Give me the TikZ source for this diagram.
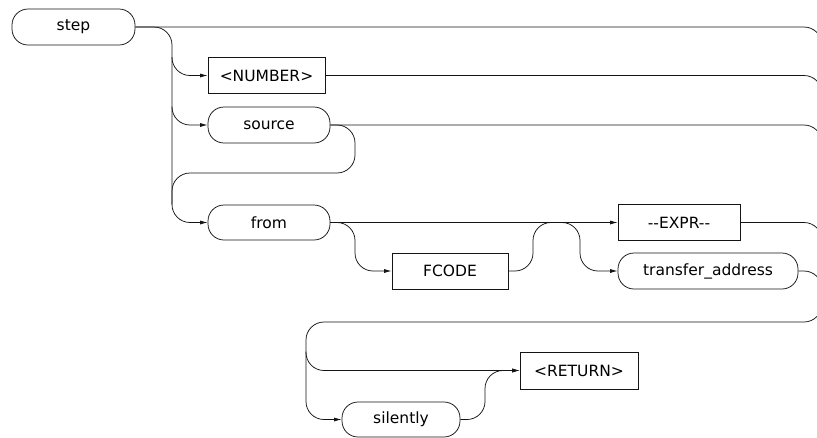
\documentclass[tikz,border=0pt]{standalone}
\usepackage{fontspec}
\setmainfont{DejaVu Sans}
\usetikzlibrary{arrows.meta,calc}
\definecolor{InkBlack}{RGB}{20,20,20}
\tikzset{
  %% 关键字框：圆角
  kwbox/.style={rectangle,rounded corners=16pt,draw=InkBlack,
                line width=0.75pt,minimum height=36pt,minimum width=122pt,
                font=\fontsize{15.5}{18}\selectfont,align=center,inner sep=2pt},
  %% 参数框：直角
  argbox/.style={rectangle,draw=InkBlack,line width=0.75pt,
                 minimum height=36pt,minimum width=117pt,
                 font=\fontsize{15.5}{18}\selectfont,align=center,inner sep=2pt},
  %% 连线
  rail/.style={draw=InkBlack,line width=0.75pt,rounded corners=18pt},
  railarr/.style={rail,-{Latex[length=7.5pt,width=4pt]}},
}
\begin{document}
\begin{tikzpicture}[x=1pt,y=-1pt]
        \useasboundingbox (0,0) rectangle (817,437);
        \clip (0,0) rectangle (817,437);

        \node[kwbox,minimum width=123pt]  (step)  at (73.5,27)   {step};
        \node[argbox]                     (num)   at (266.5,75.5) {<NUMBER>};
        \node[kwbox]                      (src)   at (269,125)   {source};
        \node[kwbox,minimum height=35pt]  (from)  at (269,222.5) {from};
        \node[argbox,minimum width=116pt] (fcode) at (450,271)   {FCODE};
        \node[argbox,minimum width=122pt] (expr)  at (679,222.5) {-{}-EXPR-{}-};
        \node[kwbox,minimum width=180pt]  (taddr) at (708,271)   {transfer\_address};
        \node[argbox,minimum width=118pt,minimum height=37pt] (ret) at (579,370.5) {<RETURN>};
        \node[kwbox,minimum width=118pt,minimum height=35pt]  (sil) at (401,419.5) {silently};

        \coordinate (railA) at (172,0);
        \coordinate (railB) at (306,0);
        \coordinate (railC) at (485,0);
        \coordinate (railD) at (355,0);
        \coordinate (railE) at (533,0);
        \coordinate (railF) at (580,0);
        \coordinate (srcLoop) at (355,173);
        \coordinate (retTop)  at (306,322);
        \coordinate (xStep) at (822,60);
        \coordinate (xNum)  at (822,110);
        \coordinate (xSrc)  at (822,160);
        \coordinate (xExpr) at (822,260);
        \coordinate (xTa)   at (822,310);
        \coordinate (rIn)   at (822,290);

        \draw[rail]    (step.east) -| (xStep);
        \draw[railarr] (step.east) -| (railA |- from.west) -- (from.west);
        \draw[railarr] (railA |- num.north) |- (num.west);
        \draw[railarr] (railA |- src.north) |- (src.west);
        \draw[rail]    (num.east) -| (xNum);
        \draw[rail]    (src.east) -| (xSrc);
        \draw[rail]    (src.east) -| (srcLoop) -| (railA |- from.north);

        \draw[railarr] (from.east) -- (expr.west);
        \draw[railarr] (from.east) -| (railD |- fcode.west) -- (fcode.west);
        \draw[railarr] (fcode.east) -| (railE |- from.east) -| (railF |- taddr.west) -- (taddr.west);
        \draw[rail]    (expr.east) -| (xExpr);
        \draw[rail]    (taddr.east) -| (xTa);

        \draw[railarr] (rIn) |- (retTop) |- (sil.west);
        \draw[railarr] (retTop |- ret.north) |- (ret.west);
        \draw[railarr] (sil.east) -| (railC |- ret.west) -- (ret.west);
      \end{tikzpicture}
\end{document}
